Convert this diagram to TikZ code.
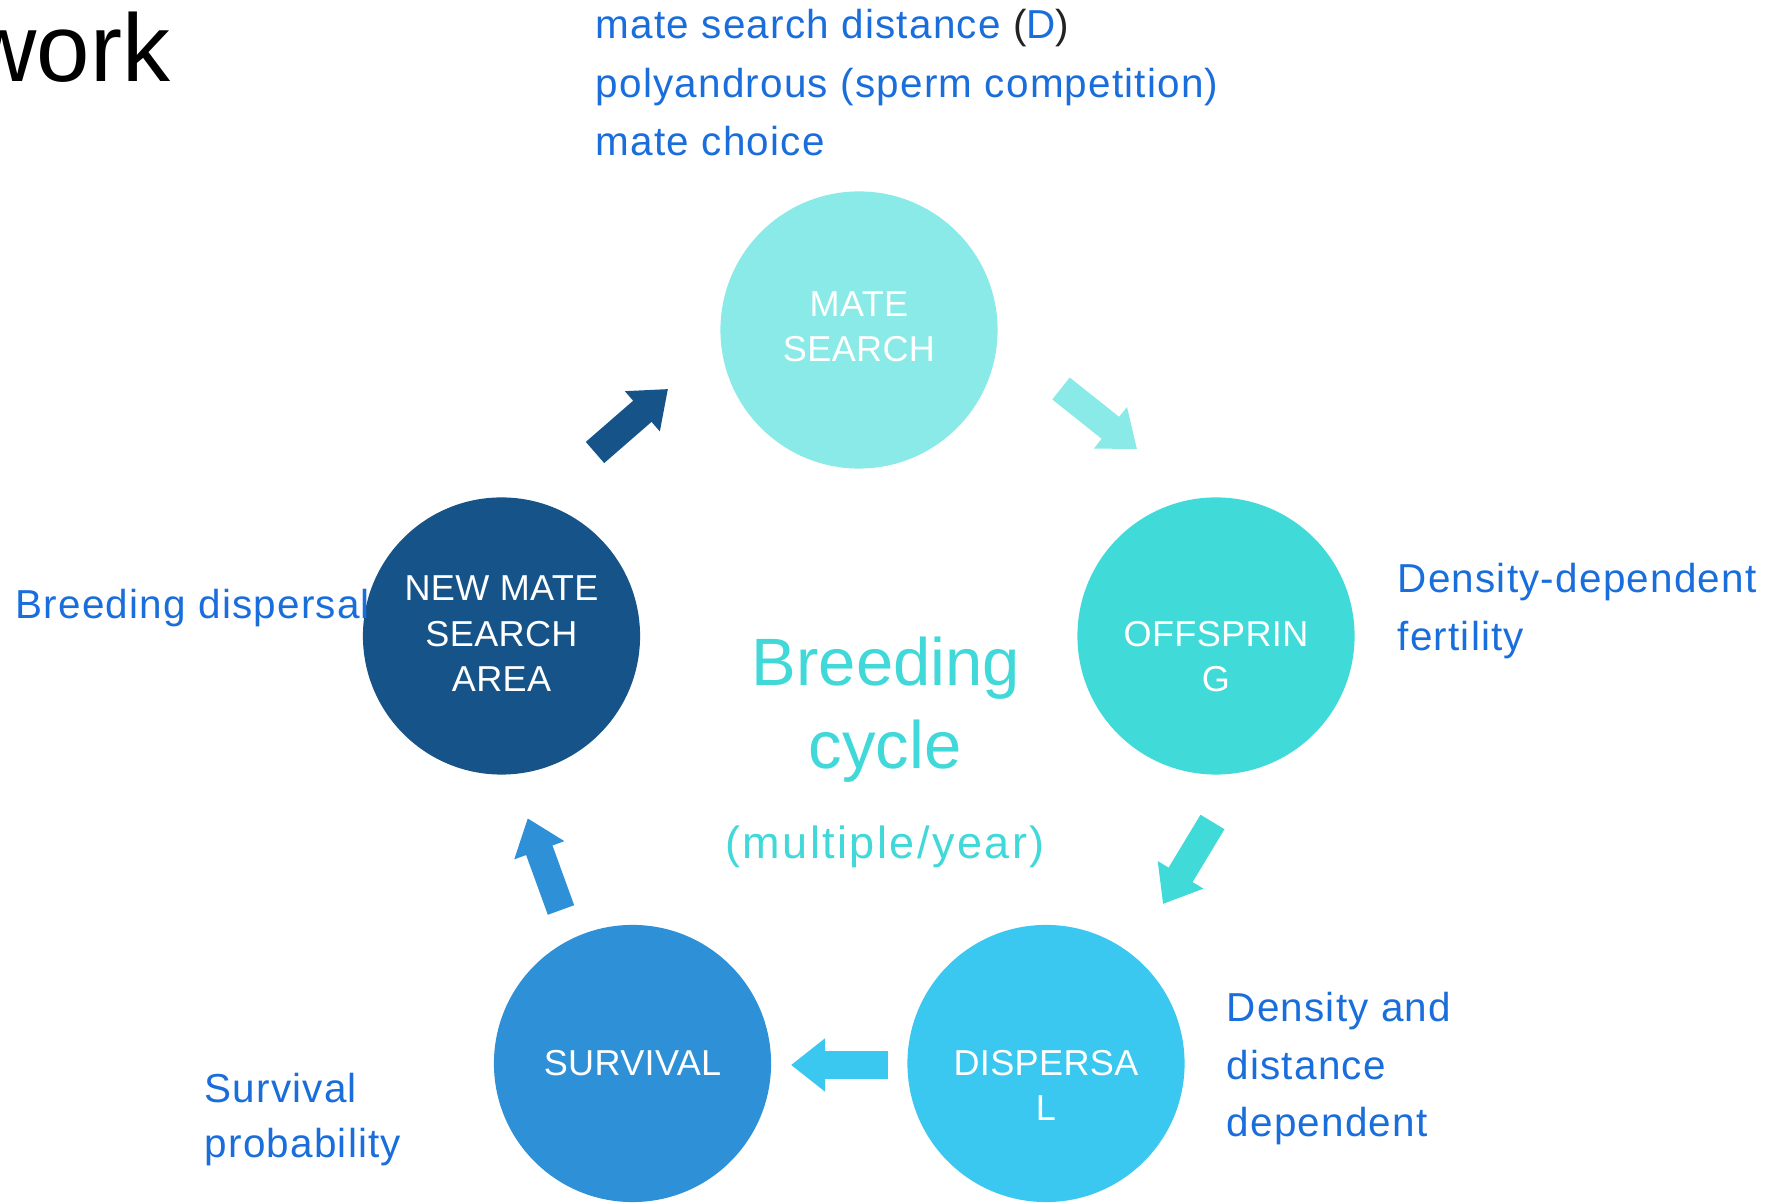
\documentclass[tikz,border=0pt]{standalone}
\usepackage{fontspec}
\setmainfont{Liberation Sans}
\newfontfamily\annfam[LetterSpace=3]{Liberation Sans}
\newfontfamily\circfam[LetterSpace=1]{Liberation Sans}
\newfontfamily\subfam[LetterSpace=5.5]{Liberation Sans}
\usetikzlibrary{arrows.meta}

\definecolor{noteblue}{RGB}{26,110,220}
\definecolor{cycletxt}{RGB}{64,216,216}
\definecolor{cMate}{RGB}{138,234,232}
\definecolor{cOff}{RGB}{64,218,216}
\definecolor{cDisp}{RGB}{58,200,240}
\definecolor{cSurv}{RGB}{46,144,214}
\definecolor{cNew}{RGB}{21,83,137}
\definecolor{darkpar}{RGB}{34,34,34}

\newcommand\annfont{\annfam\fontsize{11.5}{14}\selectfont}
\newcommand\circfont{\circfam\fontsize{10.25}{12}\selectfont}
\newcommand\bigfont{\fontsize{19.06}{22}\selectfont}
\newcommand\subfont{\subfam\fontsize{12.8}{15}\selectfont}
\newcommand\titfont{\fontsize{27.3}{32}\selectfont}

\begin{document}
\begin{tikzpicture}[x=0.01cm,y=-0.01cm,
  note/.style={anchor=base west, inner sep=0pt, text=noteblue, font=\annfont},
  stagelbl/.style={anchor=base, inner sep=0pt, text=white, font=\circfont},
  disc/.style={circle, minimum size=2.77cm, inner sep=0pt, draw=none},
  centre/.style={anchor=base, inner sep=0pt, text=cycletxt},
  block/.style={line width=0.28cm, -{Triangle[length=0.34cm 0, width=0.51cm 0]}},
]
\useasboundingbox[fill=white] (0,0) rectangle (1787,1204);
\clip (0,0) rectangle (1787,1204);

% heading fragment
\node[anchor=base east, inner sep=0pt, font=\titfont] (title) at (171,82) {work};

% stages of the cycle
\node[disc, fill=cMate] (mate) at (859,330) {};
\node[disc, fill=cOff]  (off)  at (1216,636) {};
\node[disc, fill=cDisp] (disp) at (1046,1063.5) {};
\node[disc, fill=cSurv] (surv) at (632.5,1063.5) {};
\node[disc, fill=cNew]  (new)  at (501.5,636) {};

% stage labels
\node[stagelbl] (mate1) at (859,317) {MATE};
\node[stagelbl] (mate2) at (859,362) {SEARCH};
\node[stagelbl] (off1) at (1216,647) {OFFSPRIN};
\node[stagelbl] (off2) at (1216,692) {G};
\node[stagelbl] (disp1) at (1046,1075.5) {DISPERSA};
\node[stagelbl] (disp2) at (1046,1120.5) {L};
\node[stagelbl] (surv1) at (632.5,1075.5) {SURVIVAL};
\node[stagelbl] (new1) at (501.5,601) {NEW MATE};
\node[stagelbl] (new2) at (501.5,647) {SEARCH};
\node[stagelbl] (new3) at (501.5,692) {AREA};

% centre title
\node[centre, font=\bigfont] (bc1) at (886,686) {Breeding};
\node[centre, font=\bigfont] (bc2) at (885,769) {cycle};
\node[centre, font=\subfont] (bc3) at (885,859) {(multiple/year)};

% block arrows between stages
\coordinate (a1s) at (595,452.5);  \coordinate (a1e) at (668,389);
\coordinate (a2s) at (1061,388.5); \coordinate (a2e) at (1137,449);
\coordinate (a3s) at (1212.5,822); \coordinate (a3e) at (1163,904);
\coordinate (a4s) at (887.5,1065); \coordinate (a4e) at (791,1065);
\coordinate (a5s) at (561,910);    \coordinate (a5e) at (527.7,818.3);
\draw[block, cNew]  (a1s) -- (a1e);
\draw[block, cMate] (a2s) -- (a2e);
\draw[block, cOff]  (a3s) -- (a3e);
\draw[block, cDisp] (a4s) -- (a4e);
\draw[block, cSurv] (a5s) -- (a5e);

% annotations
\node[note] (m1) at (595,39) {mate search distance {\color{darkpar}(}D{\color{darkpar})}};
\node[note] (m2) at (595,98) {polyandrous (sperm competition)};
\node[note] (m3) at (595,156) {mate choice};
\node[note] (f1) at (1397,593) {Density-dependent};
\node[note] (f2) at (1397,651) {fertility};
\node[note] (d1) at (1226,1022) {Density and};
\node[note] (d2) at (1226,1080) {distance};
\node[note] (d3) at (1226,1137) {dependent};
\node[note] (s1) at (204,1103) {Survival};
\node[note] (s2) at (204,1158) {probability};
\node[note] (b1) at (15,619) {Breeding dispersal};
\end{tikzpicture}
\end{document}
